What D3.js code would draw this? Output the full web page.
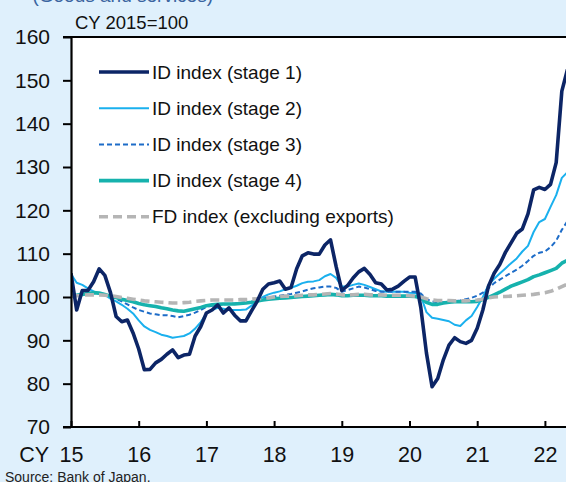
<!DOCTYPE html>
<html>
<head>
<meta charset="utf-8">
<script src="https://cdn.jsdelivr.net/npm/d3@7"></script>
<style>
  html, body { margin: 0; padding: 0; background: #dff0fc; }
  svg { display: block; font-family: "Liberation Sans", Arial, sans-serif; }
</style>
</head>
<body>
<svg id="chart" width="566" height="482"></svg>
<script>
// Monthly indexes, CY 2015 = 100, January 2015 onward
const stage1 = [
  105.5, 97, 101.5, 101.5, 103.5, 106.5, 105, 101, 95.5, 94.3, 94.7, 91.7,
  88, 83.2, 83.3, 84.8, 85.6, 86.8, 87.8, 86, 86.6, 86.8, 91, 93.2,
  96.3, 97, 98.2, 96.3, 97.5, 95.8, 94.5, 94.5, 96.8, 99, 101.8, 103,
  103.3, 103.7, 101.8, 102.2, 106.5, 109.5, 110.2, 109.9, 109.9, 112, 113.2, 107,
  101.5, 102.6, 104.4, 105.8, 106.6, 105.2, 103.3, 103, 101.6, 101.8, 102.5, 103.6,
  104.6, 104.6, 97.6, 87.1, 79.3, 81.2, 85.5, 88.9, 90.6, 89.7, 89.3, 90,
  92.8, 97, 102.5, 105.5, 107.5, 110.3, 112.5, 114.7, 115.7, 119.2, 124.7, 125.3,
  124.8, 126, 131, 147.5, 152.5
];
const stage2 = [
  105.3, 103.3, 102.8, 102, 101.3, 100.8, 100.5, 99.6, 99, 98.2, 97.3, 96.2,
  94.6, 93.2, 92.4, 91.9, 91.3, 91, 90.6, 90.8, 91, 91.6, 92.7, 94.2,
  96.2, 97, 97.5, 97.3, 97, 97, 97, 97.1, 98, 99.2, 100, 100.6,
  101, 101.3, 101.8, 102.1, 102.6, 103.2, 103.5, 103.6, 103.9, 104.8, 105.3, 104.4,
  102.4, 102.4, 102.8, 103.1, 102.8, 102.3, 101.8, 101.3, 101.2, 101.2, 101.2, 101.2,
  101, 100.9, 100.3, 96.5, 95.2, 95, 94.7, 94.4, 93.6, 93.3, 94.6, 95.6,
  97.7, 100, 102.8, 104.2, 105.4, 106.6, 107.8, 108.9, 110.5, 111.8, 115, 117.3,
  118, 120.8, 123.5, 127.5, 128.8
];
const stage3 = [
  100.5, 100.6, 100.8, 101, 101, 100.8, 100.5, 100.2, 99.6, 99, 98.3, 97.6,
  97, 96.6, 96.2, 96, 95.8, 95.8, 95.6, 95.3, 95.6, 95.9, 96.4, 97,
  97.7, 98, 98.2, 98.3, 98.4, 98.5, 98.6, 98.8, 98.9, 99.3, 99.6, 99.9,
  100.1, 100.3, 100.5, 100.7, 101, 101.3, 101.7, 102, 102.2, 102.4, 102.4, 102.1,
  101.2, 101.6, 102, 102.4, 102.2, 101.8, 101.4, 101.2, 101.2, 101.2, 101.2, 101.2,
  101.2, 101.2, 100.8, 99.5, 99, 98.8, 98.8, 98.9, 99, 99.2, 99.5, 99.8,
  100.3, 101, 102, 103.2, 104, 104.8, 105.6, 106.3, 107.2, 108.3, 109.5, 110.2,
  110.5, 111.5, 113, 115.5, 117.5
];
const stage4 = [
  100.2, 100.4, 100.6, 100.8, 101, 100.9, 100.6, 100.2, 99.9, 99.5, 99.2, 98.9,
  98.5, 98.2, 98, 97.8, 97.5, 97.3, 97, 96.8, 96.7, 97, 97.3, 97.6,
  98, 98.2, 98.3, 98.4, 98.4, 98.4, 98.5, 98.6, 98.8, 99.1, 99.3, 99.5,
  99.6, 99.7, 99.8, 99.9, 100, 100.1, 100.2, 100.3, 100.4, 100.5, 100.6, 100.5,
  100.3, 100.3, 100.4, 100.4, 100.4, 100.3, 100.3, 100.3, 100.2, 100.2, 100.2, 100.2,
  100.2, 100.1, 99.8, 98.8, 98.3, 98.3, 98.6, 98.8, 98.9, 98.9, 98.9, 98.9,
  99, 99.4, 99.9, 100.5, 101.1, 101.8, 102.5, 103, 103.5, 104, 104.7, 105.1,
  105.6, 106.1, 106.6, 107.8, 108.5
];
const fdIndex = [
  100.2, 100.3, 100.4, 100.5, 100.5, 100.5, 100.4, 100.3, 100.1, 99.9, 99.7, 99.5,
  99.3, 99.1, 99, 98.9, 98.8, 98.7, 98.6, 98.6, 98.7, 98.8, 99, 99.1,
  99.2, 99.3, 99.3, 99.3, 99.3, 99.3, 99.4, 99.4, 99.5, 99.6, 99.7, 99.8,
  100, 100.1, 100.2, 100.2, 100.3, 100.4, 100.5, 100.5, 100.6, 100.7, 100.8, 100.7,
  100.5, 100.5, 100.5, 100.6, 100.6, 100.5, 100.5, 100.5, 100.4, 100.4, 100.4, 100.4,
  100.3, 100.2, 100, 99.6, 99.3, 99.2, 99.2, 99.2, 99.1, 99.1, 99.1, 99.2,
  99.3, 99.5, 99.8, 100, 100.1, 100.1, 100.2, 100.3, 100.4, 100.5, 100.6, 100.8,
  101, 101.3, 101.8, 102.4, 103
];

const seriesNames = [
  "ID index (stage 1)",
  "ID index (stage 2)",
  "ID index (stage 3)",
  "ID index (stage 4)",
  "FD index (excluding exports)"
];
const yearTicks = [15, 16, 17, 18, 19, 20, 21, 22];
const valueTicks = [70, 80, 90, 100, 110, 120, 130, 140, 150, 160];

const series = [
  { name: seriesNames[0], values: stage1, color: "#0c2566", width: 3.6, dash: null },
  { name: seriesNames[1], values: stage2, color: "#1ab0ee", width: 2,   dash: null },
  { name: seriesNames[2], values: stage3, color: "#1d6cc8", width: 2,   dash: "5,3" },
  { name: seriesNames[3], values: stage4, color: "#16b2ad", width: 3.6, dash: null },
  { name: seriesNames[4], values: fdIndex, color: "#b5b5b5", width: 3.6, dash: "9,5" }
];

const svg = d3.select("#chart");
const W = 566, H = 482;
const plotLeft = 71, plotTop = 37, plotBottom = 427;

const x = d3.scaleLinear().domain([15, 23]).range([plotLeft, plotLeft + 8 * 67.7]);
const y = d3.scaleLinear().domain([70, 160]).range([plotBottom, plotTop]);

// Heading, running off the top edge
svg.append("text")
  .attr("x", 213).attr("y", 1.5)
  .attr("text-anchor", "end")
  .attr("font-size", 19)
  .attr("fill", "#3a64a0")
  .text("(Goods and services)");

// Plot area
svg.append("rect")
  .attr("x", plotLeft).attr("y", plotTop)
  .attr("width", W - plotLeft).attr("height", plotBottom - plotTop)
  .attr("fill", "#ffffff");

svg.append("defs").append("clipPath").attr("id", "plotClip")
  .append("rect")
  .attr("x", plotLeft).attr("y", plotTop - 5)
  .attr("width", W - plotLeft).attr("height", plotBottom - plotTop + 5);

// Series lines
const line = d3.line()
  .x((d, i) => x(15 + i / 12))
  .y(d => y(d));

const drawOrder = [1, 2, 3, 4, 0];
const lines = svg.append("g").attr("clip-path", "url(#plotClip)");
drawOrder.forEach(k => {
  const s = series[k];
  lines.append("path")
    .datum(s.values)
    .attr("d", line)
    .attr("fill", "none")
    .attr("stroke", s.color)
    .attr("stroke-width", s.width)
    .attr("stroke-dasharray", s.dash)
    .attr("stroke-linejoin", "round");
});

// Y axis
const yAxis = svg.append("g")
  .attr("transform", `translate(${plotLeft},0)`)
  .call(d3.axisLeft(y).tickValues(valueTicks).tickSize(8).tickPadding(13).tickSizeOuter(0));
yAxis.select(".domain").attr("stroke", "#000").attr("stroke-width", 2.2);
yAxis.selectAll(".tick line").attr("stroke", "#000").attr("stroke-width", 2);
yAxis.selectAll(".tick text").attr("font-size", 21).attr("fill", "#111")
  .attr("font-family", "Liberation Sans, Arial, sans-serif");

// X axis with inward ticks
const xAxis = svg.append("g")
  .attr("transform", `translate(0,${plotBottom})`)
  .call(d3.axisBottom(x).tickValues(yearTicks).tickSize(-6).tickPadding(20).tickSizeOuter(0)
    .tickFormat(d => d));
xAxis.select(".domain").remove();
xAxis.selectAll(".tick line").attr("stroke", "#000").attr("stroke-width", 2);
xAxis.selectAll(".tick text").attr("font-size", 21.5).attr("fill", "#111")
  .attr("font-family", "Liberation Sans, Arial, sans-serif");

// Frame lines: bottom and top
svg.append("line")
  .attr("x1", plotLeft - 8).attr("x2", W)
  .attr("y1", plotBottom).attr("y2", plotBottom)
  .attr("stroke", "#000").attr("stroke-width", 2.2);
svg.append("line")
  .attr("x1", plotLeft - 8).attr("x2", W)
  .attr("y1", plotTop).attr("y2", plotTop)
  .attr("stroke", "#000").attr("stroke-width", 2.2);

svg.append("text")
  .attr("x", 49).attr("y", plotBottom + 20).attr("dy", "0.71em")
  .attr("text-anchor", "end")
  .attr("font-size", 21.5).attr("fill", "#111")
  .text("CY");

svg.append("text")
  .attr("x", 75).attr("y", 29)
  .attr("font-size", 18.5).attr("fill", "#111")
  .text("CY 2015=100");

svg.append("text")
  .attr("x", 5).attr("y", 482)
  .attr("font-size", 14).attr("fill", "#222")
  .text("Source: Bank of Japan.");

// Legend
const legend = svg.append("g");
series.forEach((s, i) => {
  const ly = 72 + i * 36.2;
  legend.append("line")
    .attr("x1", 99).attr("x2", 149)
    .attr("y1", ly).attr("y2", ly)
    .attr("stroke", s.color)
    .attr("stroke-width", s.width)
    .attr("stroke-dasharray", s.dash);
  legend.append("text")
    .attr("x", 152).attr("y", ly).attr("dy", "0.35em")
    .attr("font-size", 19).attr("fill", "#111")
    .text(s.name);
});
</script>
</body>
</html>
